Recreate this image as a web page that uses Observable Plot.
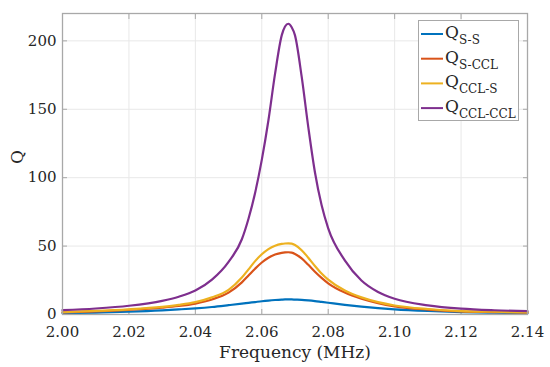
<!DOCTYPE html>
<html>
<head>
<meta charset="utf-8">
<script src="https://cdn.jsdelivr.net/npm/d3@7"></script>
<script src="https://cdn.jsdelivr.net/npm/@observablehq/plot@0.6"></script>
<style>
  html, body { margin: 0; padding: 0; background: white; }
  #chart { width: 550px; height: 367px; }
</style>
</head>
<body>
<div id="chart"></div>
<script>
// Frequency (MHz)
const freq = [2.000, 2.010, 2.020, 2.030, 2.035, 2.040, 2.045, 2.050, 2.054, 2.056, 2.058, 2.060, 2.062, 2.064, 2.066, 2.067, 2.068, 2.069, 2.070, 2.072, 2.074, 2.076, 2.078, 2.080, 2.085, 2.090, 2.095, 2.100, 2.110, 2.120, 2.130, 2.140];
// Q values per series
const qSS =     [1, 1.4, 2, 3, 3.7, 4.5, 5.5, 6.8, 7.9, 8.5, 9.1, 9.7, 10.2, 10.6, 10.9, 11, 11, 11, 10.9, 10.7, 10.3, 9.8, 9.2, 8.6, 7.1, 5.8, 4.7, 3.8, 2.6, 1.8, 1.3, 1];
const qSCCL =   [1.6, 2.3, 3.4, 5, 6.2, 8, 11, 16, 23.5, 28.5, 33.5, 38, 41.5, 43.8, 45.1, 45.4, 45.5, 45.2, 44.3, 41, 36.3, 31.3, 26.8, 22.8, 16, 11.5, 8.3, 6, 3.6, 2.3, 1.8, 1.4];
const qCCLS =   [1.8, 2.6, 3.8, 5.6, 7, 9, 12.5, 18, 27, 33, 39, 44, 47.8, 50.3, 51.6, 51.9, 52, 51.8, 50.8, 47, 41.5, 35.5, 30, 25.5, 17.5, 12.5, 9, 6.6, 4, 2.5, 2, 1.5];
const qCCLCCL = [3.2, 4.4, 6.4, 10, 13, 17.5, 25.5, 38.5, 55, 70, 89, 113, 142, 176, 204, 210.5, 212.5, 210, 204, 174, 137, 104, 80, 63, 39.6, 24.9, 16.5, 11.5, 6.7, 4.3, 3.1, 2.4];

const seriesNames = ["S-S", "S-CCL", "CCL-S", "CCL-CCL"];
const seriesColors = ["#0072BD", "#D95319", "#EDB120", "#7E2F8E"];
const seriesValues = [qSS, qSCCL, qCCLS, qCCLCCL];

const xTicks = [2.00, 2.02, 2.04, 2.06, 2.08, 2.10, 2.12, 2.14];
const yTicks = [0, 50, 100, 150, 200];
const xLabel = "Frequency (MHz)";
const yLabel = "Q";

const axisColor = "#a8a8a8";
const gridColor = "#e8e8e8";
const font = "DejaVu Serif";

const lineMarks = seriesValues.map((vals, k) =>
  Plot.line(freq, {x: d => d, y: (d, i) => vals[i], stroke: seriesColors[k], strokeWidth: 2.2, curve: "monotone-x"})
);

const chart = Plot.plot({
  width: 550,
  height: 367,
  marginLeft: 62,
  marginRight: 23,
  marginTop: 13,
  marginBottom: 53,
  style: {fontFamily: font, fontSize: "15px", color: "#262626", background: "white"},
  x: {domain: [2.00, 2.14]},
  y: {domain: [0, 220]},
  marks: [
    Plot.gridX(xTicks, {stroke: gridColor, strokeOpacity: 1}),
    Plot.gridY(yTicks, {stroke: gridColor, strokeOpacity: 1}),
    Plot.axisX(xTicks, {anchor: "bottom", tickSize: 0, tickPadding: 12, tickFormat: d => d3.format(".2f")(d), label: null, fill: "#262626"}),
    Plot.axisY(yTicks, {anchor: "left", tickSize: 0, tickPadding: 6, tickFormat: d => String(d), label: null, fill: "#262626"}),
    Plot.axisX(xTicks, {anchor: "bottom", tickSize: -5, tickFormat: () => "", label: null, stroke: axisColor}),
    Plot.axisX(xTicks, {anchor: "top", tickSize: -5, tickFormat: () => "", label: null, stroke: axisColor}),
    Plot.axisY(yTicks, {anchor: "left", tickSize: -5, tickFormat: () => "", label: null, stroke: axisColor}),
    Plot.axisY(yTicks, {anchor: "right", tickSize: -5, tickFormat: () => "", label: null, stroke: axisColor}),
    ...lineMarks,
    Plot.frame({stroke: axisColor, strokeWidth: 1.3}),
    Plot.text([xLabel], {frameAnchor: "bottom", dy: 43, fontSize: 17, fill: "#262626", text: d => d}),
    Plot.text([yLabel], {frameAnchor: "left", dx: -45, rotate: -90, fontSize: 17, fill: "#262626", text: d => d})
  ]
});

document.getElementById("chart").appendChild(chart);

// Legend inside the plot (top right)
const svg = d3.select(chart);
const lg = svg.append("g").attr("class", "legend").attr("text-anchor", "start");
lg.append("rect")
  .attr("x", 418.5).attr("y", 20.5).attr("width", 100).attr("height", 100)
  .attr("fill", "white").attr("stroke", "#a8a8a8").attr("stroke-width", 1);
seriesNames.forEach((name, k) => {
  const y = 34 + k * 24.7;
  lg.append("line")
    .attr("x1", 421).attr("x2", 443).attr("y1", y).attr("y2", y)
    .attr("stroke", seriesColors[k]).attr("stroke-width", 2);
  const t = lg.append("text")
    .attr("x", 445).attr("y", y + 4)
    .attr("text-anchor", "start")
    .attr("font-family", font).attr("font-size", 17).attr("fill", "#262626");
  t.append("tspan").text("Q");
  t.append("tspan").attr("dy", 6).attr("font-size", 12).text(name);
});
</script>
</body>
</html>
